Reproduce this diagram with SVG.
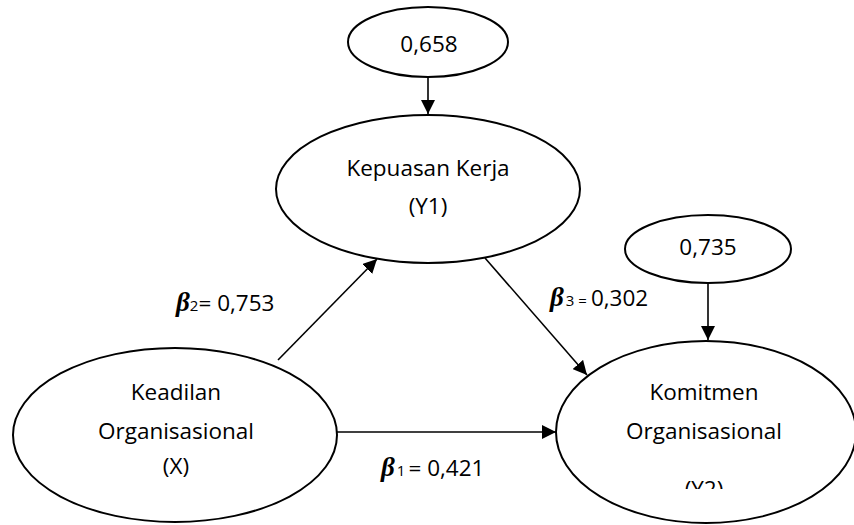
<svg xmlns="http://www.w3.org/2000/svg" width="854" height="525" viewBox="0 0 854 525">
<style>
.n{fill:#fff;stroke:#000;stroke-width:2}
.t{font-family:"Open Sans","Liberation Sans",sans-serif;font-size:22.5px;fill:#000;text-anchor:middle}
.l{font-family:"Open Sans","Liberation Sans",sans-serif;font-size:22.5px;fill:#000}
.b{font-family:"Liberation Serif",serif;font-style:italic;font-weight:bold;font-size:27px}
.s{font-size:15px}
</style>
<defs>
<marker id="a2" viewBox="0 0 10 10" refX="10" refY="5" markerWidth="14" markerHeight="14" markerUnits="userSpaceOnUse" orient="auto"><path d="M0,0L10,5L0,10z" fill="#000"/></marker>
<clipPath id="cy"><rect x="600" y="460" width="200" height="29"/></clipPath>
</defs>
<g id="connectors" stroke="#000" stroke-width="1.6" marker-end="url(#a2)">
<line x1="428" y1="77" x2="428" y2="114"/>
<line x1="708" y1="283" x2="708" y2="340"/>
<line x1="278" y1="360" x2="377" y2="259"/>
<line x1="485" y1="258" x2="587" y2="375"/>
<line x1="337" y1="432" x2="556" y2="432"/>
</g>
<g id="e1"><ellipse class="n" cx="428" cy="42" rx="80" ry="35"/><text class="t" x="429" y="52">0,658</text></g>
<g id="y1"><ellipse class="n" cx="428" cy="189" rx="152" ry="74"/><text class="t" x="428" y="176">Kepuasan Kerja</text><text class="t" x="428" y="214">(Y1)</text></g>
<g id="e2"><ellipse class="n" cx="708" cy="249" rx="83" ry="34"/><text class="t" x="708" y="255">0,735</text></g>
<g id="y2"><ellipse class="n" cx="706" cy="432" rx="150" ry="91"/><text class="t" x="704" y="400">Komitmen</text><text class="t" x="704" y="439">Organisasional</text><text class="t" x="704" y="497" clip-path="url(#cy)">(Y2)</text></g>
<g id="x"><ellipse class="n" cx="175" cy="435" rx="162" ry="87"/><text class="t" x="176" y="400">Keadilan</text><text class="t" x="176" y="439">Organisasional</text><text class="t" x="176" y="474">(X)</text></g>
<g id="labels">
<text class="l" x="176" y="311"><tspan class="b">β</tspan><tspan class="s">2</tspan><tspan>= 0,753</tspan></text>
<text class="l" x="550" y="306"><tspan class="b">β</tspan><tspan class="s" dx="2">3 =</tspan><tspan dx="4">0,302</tspan></text>
<text class="l" x="381" y="476"><tspan class="b">β</tspan><tspan class="s" dx="2">1</tspan><tspan dx="3">= 0,421</tspan></text>
</g>
</svg>
